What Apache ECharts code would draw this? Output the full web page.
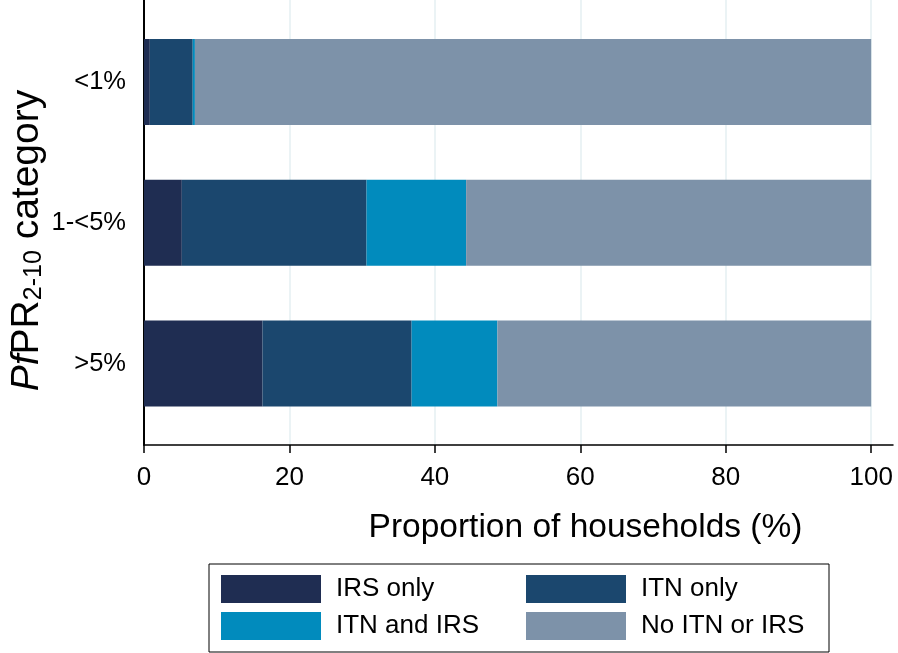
<!DOCTYPE html>
<html>
<head>
<meta charset="utf-8">
<script src="https://cdn.jsdelivr.net/npm/echarts@6/dist/echarts.min.js"></script>
<style>html,body{margin:0;padding:0;background:#fff}#c{width:898px;height:653px}</style>
</head>
<body>
<div id="c"></div>
<script>
const categories = ['<1%', '1-<5%', '>5%'];
const irsOnly = [0.8, 5.2, 16.3];
const itnOnly = [5.9, 25.4, 20.5];
const itnAndIrs = [0.3, 13.7, 11.8];
const noItnIrs = [93.0, 55.7, 51.4];
const xTicks = [0, 20, 40, 60, 80, 100];
const seriesNames = ['IRS only', 'ITN only', 'ITN and IRS', 'No ITN or IRS'];
const colors = ['#1f2d52', '#1b476e', '#018bbd', '#7d92a9'];

const FONT = '"Liberation Sans", Arial, Helvetica, sans-serif';
const chart = echarts.init(document.getElementById('c'));
const seriesData = [irsOnly, itnOnly, itnAndIrs, noItnIrs];

chart.setOption({
  animation: false,
  textStyle: { fontFamily: FONT, color: '#000' },
  grid: [
    { left: 144, right: 5, top: 0, height: 445 },
    { left: 144, right: 5, top: 11.6, height: 422.3 }
  ],
  xAxis: [
    {
      gridIndex: 0, type: 'value', min: 0, max: 103,
      name: 'Proportion of households (%)',
      nameLocation: 'middle', nameGap: 66,
      nameTextStyle: { fontSize: 33.5, color: '#000', fontFamily: FONT, padding: [0, 0, 0, 134] },
      axisLine: { show: true, lineStyle: { color: '#000', width: 1.5 } },
      axisTick: { show: true, length: 8, lineStyle: { color: '#000', width: 1.5 }, customValues: xTicks },
      axisLabel: { fontSize: 26, color: '#000', margin: 20, fontFamily: FONT, customValues: xTicks },
      splitLine: { show: true, lineStyle: { color: '#e4eff2', width: 1.5 } }
    },
    {
      gridIndex: 1, type: 'value', min: 0, max: 103,
      axisLine: { show: false }, axisTick: { show: false }, axisLabel: { show: false }, splitLine: { show: false }
    }
  ],
  yAxis: [
    {
      gridIndex: 0, type: 'value', min: 0, max: 1,
      name: '{i|Pf}PR{s|2-10} category',
      nameLocation: 'middle', nameGap: 97,
      nameTextStyle: {
        fontSize: 39, color: '#000', fontFamily: FONT, padding: [0, 36, 0, 0],
        rich: {
          i: { fontSize: 39, fontStyle: 'italic', fontFamily: FONT, color: '#000' },
          s: { fontSize: 25, fontFamily: FONT, color: '#000', verticalAlign: 'bottom', padding: [13, 0, 0, 0] }
        }
      },
      axisLine: { show: true, lineStyle: { color: '#000', width: 2 } },
      axisTick: { show: false }, axisLabel: { show: false }, splitLine: { show: false }
    },
    {
      gridIndex: 1, type: 'category', data: categories, inverse: true,
      axisLine: { show: false }, axisTick: { show: false },
      axisLabel: { fontSize: 25.5, color: '#000', margin: 18, fontFamily: FONT }
    }
  ],
  legend: {
    data: seriesNames,
    left: 209, top: 564, width: 640,
    padding: [11, 7, 12, 12],
    borderColor: '#000', borderWidth: 1,
    itemWidth: 100, itemHeight: 28, itemGap: 9,
    icon: 'rect',
    textStyle: { fontSize: 26, color: '#000', fontFamily: FONT, width: 181, lineHeight: 28, padding: [0, 0, 0, 10] }
  },
  series: seriesData.map((d, i) => ({
    name: seriesNames[i],
    type: 'bar',
    stack: 'total',
    xAxisIndex: 1, yAxisIndex: 1,
    barWidth: 86,
    data: d,
    itemStyle: { color: colors[i] }
  }))
});
</script>
</body>
</html>
